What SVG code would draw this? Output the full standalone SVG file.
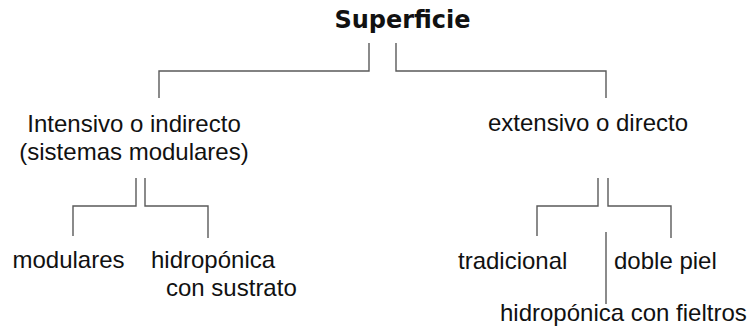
<svg xmlns="http://www.w3.org/2000/svg" width="752" height="335" viewBox="0 0 752 335">
<style>
.t{font-family:"Liberation Sans",Arial,sans-serif;font-size:24px;fill:#111}
.b{font-family:"DejaVu Sans",Verdana,sans-serif;font-weight:bold;font-size:24px;fill:#111}
.c{fill:none;stroke:#5a5a5a;stroke-width:1.4}
</style>
<rect width="752" height="335" fill="#fff"/>
<g id="connectors">
<path class="c" d="M369,43 V71 H159 V98"/>
<path class="c" d="M396,43 V71 H606 V98"/>
<path class="c" d="M136,178 V206 H73 V236"/>
<path class="c" d="M145,178 V206 H208 V238"/>
<path class="c" d="M598,178 V206 H537 V236"/>
<path class="c" d="M608,178 V206 H671 V238"/>
<path class="c" d="M606,232 V304"/>
</g>
<g id="superficie"><text class="b" x="402.5" y="28" text-anchor="middle">Superficie</text></g>
<g id="intensivo"><text class="t" x="134" y="132" text-anchor="middle">Intensivo o indirecto</text><text class="t" x="134" y="160" text-anchor="middle">(sistemas modulares)</text></g>
<g id="extensivo"><text class="t" x="588" y="131" text-anchor="middle">extensivo o directo</text></g>
<g id="modulares"><text class="t" x="12.5" y="268">modulares</text></g>
<g id="hidroponica-sustrato"><text class="t" x="151" y="268">hidropónica</text><text class="t" x="166" y="296">con sustrato</text></g>
<g id="tradicional"><text class="t" x="458" y="269">tradicional</text></g>
<g id="doble-piel"><text class="t" x="614" y="269">doble piel</text></g>
<g id="hidroponica-fieltros"><text class="t" x="500" y="321">hidropónica con fieltros</text></g>
</svg>
